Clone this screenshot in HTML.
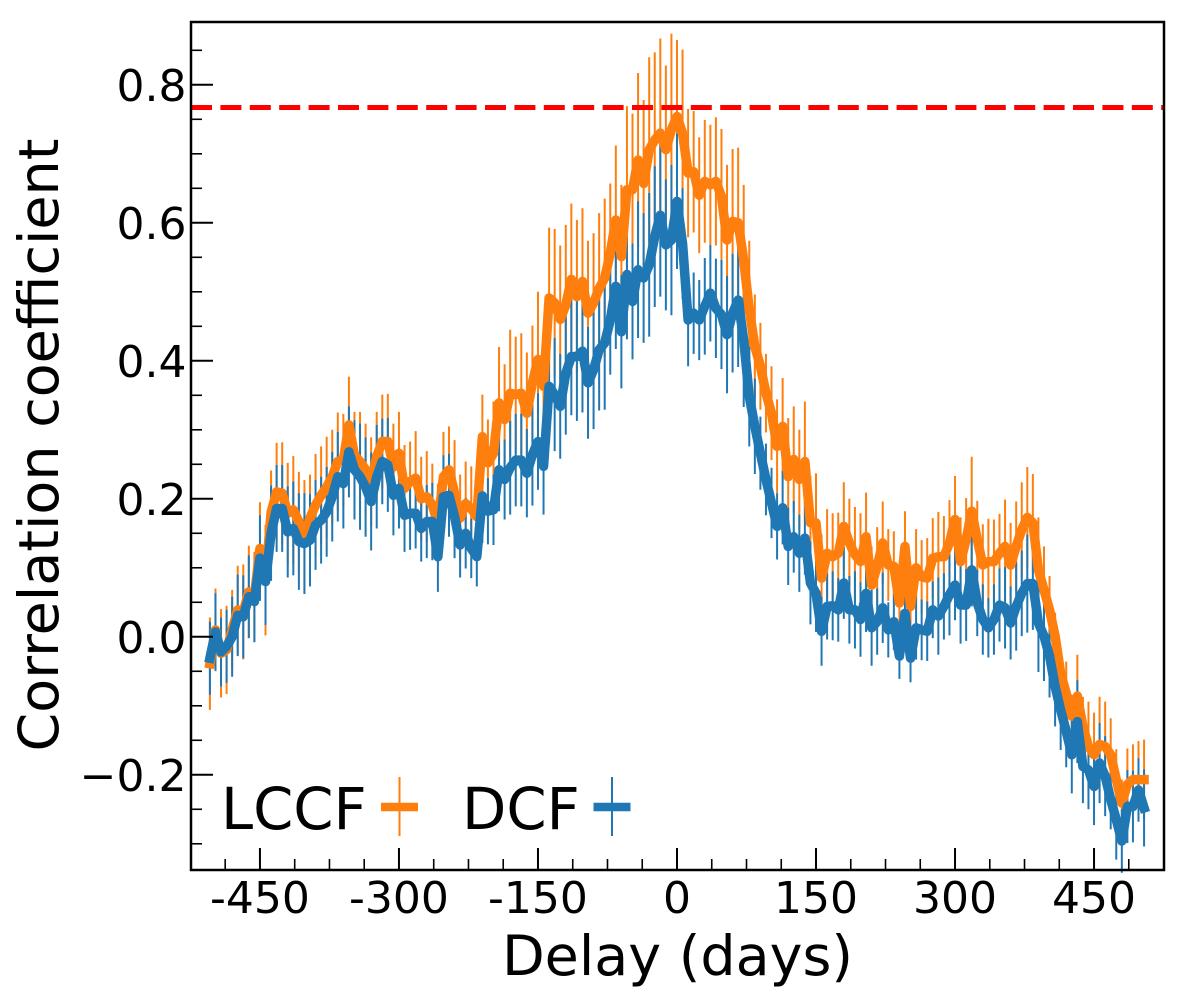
<!DOCTYPE html>
<html lang="en">
<head>
<meta charset="utf-8">
<title>Correlation coefficient vs delay</title>
<style>
html,body{margin:0;padding:0;background:#fff;}
svg{display:block;font-family:"DejaVu Sans","Liberation Sans",sans-serif;}
text{fill:#000;}
</style>
</head>
<body>
<svg id="chart" width="1200" height="1000" viewBox="0 0 1200 1000" xmlns="http://www.w3.org/2000/svg">
  <rect x="0" y="0" width="1200" height="1000" fill="#fff"/>
  <g id="errors-lccf" stroke="#ff7f0e" stroke-width="2"></g>
  <g id="errors-dcf" stroke="#1f77b4" stroke-width="2"></g>
  <path id="line-lccf" fill="none" stroke="#ff7f0e" stroke-width="9.5" stroke-linejoin="round" stroke-linecap="square"/>
  <path id="line-dcf" fill="none" stroke="#1f77b4" stroke-width="9.5" stroke-linejoin="round" stroke-linecap="square"/>
  <line id="threshold" stroke="#ff0000" stroke-width="5" stroke-dasharray="21 8.4"/>
  <g id="ticks" stroke="#000"></g>
  <g id="labels-x" font-size="44" text-anchor="middle"></g>
  <g id="labels-y" font-size="44" text-anchor="end"></g>
  <rect x="191" y="22" width="973" height="848" fill="none" stroke="#000" stroke-width="2.5"/>
  <text x="677.5" y="975" font-size="55.5" text-anchor="middle">Delay (days)</text>
  <text transform="translate(58 445) rotate(-90)" font-size="55.5" text-anchor="middle">Correlation coefficient</text>
  <g>
    <text x="221" y="829" font-size="57.6">LCCF</text>
    <line x1="381" y1="807" x2="418" y2="807" stroke="#ff7f0e" stroke-width="8.5"/>
    <line x1="399.5" y1="777" x2="399.5" y2="836" stroke="#ff7f0e" stroke-width="2"/>
    <text x="462" y="829" font-size="57.6">DCF</text>
    <line x1="593.5" y1="807" x2="630.5" y2="807" stroke="#1f77b4" stroke-width="8.5"/>
    <line x1="612" y1="777" x2="612" y2="836" stroke="#1f77b4" stroke-width="2"/>
  </g>
</svg>
<script>
const lags = [
-504,-498,-492,-486,-480,-474,-468,-462,-456,-450,-444,-438,-432,-426,-420,-414,-408,-402,-396,-390,
-384,-378,-372,-366,-360,-354,-348,-342,-336,-330,-324,-318,-312,-306,-300,-294,-288,-282,-276,-270,
-264,-258,-252,-246,-240,-234,-228,-222,-216,-210,-204,-198,-192,-186,-180,-174,-168,-162,-156,-150,
-144,-138,-132,-126,-120,-114,-108,-102,-96,-90,-84,-78,-72,-66,-60,-54,-48,-42,-36,-30,
-24,-18,-12,-6,0,6,12,18,24,30,36,42,48,54,60,66,72,78,84,90,
96,102,108,114,120,126,132,138,144,150,156,162,168,174,180,186,192,198,204,210,
216,222,228,234,240,246,252,258,264,270,276,282,288,294,300,306,312,318,324,330,
336,342,348,354,360,366,372,378,384,390,396,402,408,414,420,426,432,438,444,450,
456,462,468,474,480,486,492,498,504];

const lccfValues = [
-.039,.01,-.024,-.019,.01,.039,.036,.065,.058,.128,.082,.18,.21,.208,.179,.184,.167,.145,.172,.191,
.205,.217,.232,.254,.256,.307,.263,.254,.242,.225,.261,.283,.283,.246,.266,.215,.225,.23,.2,.203,
.191,.164,.232,.242,.208,.172,.193,.186,.174,
.29,.252,.266,.339,.315,.353,.351,.353,.324,.368,.402,.363,.491,.484,.46,.481,.518,.493,.515,.469,
.484,.505,.52,.556,.604,.551,.648,.648,.691,.657,.706,.72,.73,.706,.735,
.754,.73,.672,.674,.64,.66,.655,.66,.638,.575,.602,.6,.546,.474,.421,.392,.353,.324,.276,
.305,.232,.257,.228,.254,.165,.165,.085,.121,.116,.121,.16,.136,.119,.109,.145,.075,.102,.136,.104,
.102,.049,.131,.044,.1,.087,.085,.114,.116,.116,.136,.17,.109,.141,.182,.141,.104,.109,.109,.121,
.131,.104,.131,.155,.173,.165,.097,.068,.039,.001,-.053,-.082,-.115,-.086,-.13,-.159,-.171,-.156,-.159,-.171,
-.207,-.241,-.214,-.207,-.207,-.207];

const lccfErrors = [
.067,.06,.064,.064,.058,.064,.069,.067,.065,.067,.08,.061,.071,.074,.073,.078,.072,.082,.063,.074,
.071,.073,.068,.071,.067,.07,.063,.072,.067,.064,.065,.068,.069,.063,.06,.063,.058,.068,.061,.066,
.06,.058,.065,.063,.077,.063,.061,.061,.058,
.061,.063,.075,.081,.08,.092,.084,.087,.088,.083,.098,.082,.102,.107,.107,.116,.11,.111,.106,.105,
.101,.109,.115,.101,.108,.104,.121,.11,.126,.121,.134,.127,.137,.122,.139,
.111,.121,.093,.088,.084,.089,.087,.093,.098,.109,.105,.109,.109,.1,.075,.063,.057,.068,.068,
.07,.085,.077,.072,.087,.068,.072,.063,.064,.063,.059,.064,.064,.069,.07,.064,.056,.057,.06,.052,
.051,.043,.051,.043,.056,.053,.058,.058,.065,.059,.062,.063,.064,.06,.079,.056,.059,.062,.061,.057,
.068,.061,.065,.069,.073,.071,.076,.063,.049,.034,.036,.046,.031,.06,.043,.065,.061,.069,.065,.053,
.044,.034,.052,.051,.056,.058];

const dcfValues = [
-.031,.007,-.022,-.014,0,.031,.029,.058,.051,.114,.08,.15,.186,.186,.152,.157,.138,.135,.14,.162,
.169,.181,.203,.232,.222,.268,.242,.232,.217,.196,.232,.254,.249,.205,.215,.176,.179,.179,.157,.167,
.167,.116,.203,.205,.174,.133,.15,.128,.116,
.204,.182,.184,.242,.228,.245,.256,.256,.237,.264,.283,.247,.363,.351,.334,.382,.406,.406,.414,.368,
.387,.416,.426,.459,.508,.442,.525,.486,.532,.52,.539,.58,.611,.568,.575,
.631,.57,.459,.469,.459,.479,.498,.476,.467,.438,.469,.488,.43,.348,.305,.266,.228,.194,.16,
.187,.131,.145,.121,.143,.078,.063,.008,.044,.045,.039,.078,.039,.039,.025,.063,.013,.022,.042,.01,
.022,-.028,.034,-.031,.013,.01,.008,.039,.03,.044,.061,.075,.046,.046,.097,.049,.025,.013,.025,.046,
.042,.02,.044,.063,.077,.077,.02,.001,-.028,-.072,-.106,-.137,-.171,-.123,-.188,-.193,-.217,-.183,-.202,-.236,
-.265,-.296,-.246,-.246,-.222,-.248];

const dcfErrors = [
.053,.056,.05,.053,.058,.059,.06,.06,.059,.062,.063,.069,.063,.063,.066,.068,.07,.073,.067,.065,
.063,.065,.065,.065,.065,.066,.072,.077,.072,.071,.075,.062,.068,.058,.058,.053,.053,.051,.048,.053,
.056,.051,.06,.06,.06,.047,.051,.043,.043,
.068,.048,.051,.06,.058,.068,.067,.067,.064,.074,.07,.07,.082,.082,.076,.089,.085,.093,.089,.081,
.086,.088,.097,.079,.091,.082,.094,.084,.099,.094,.104,.102,.118,.095,.109,
.098,.08,.067,.059,.058,.07,.07,.072,.079,.085,.086,.097,.097,.072,.069,.053,.052,.051,.048,
.053,.056,.052,.056,.053,.06,.056,.05,.048,.05,.046,.052,.049,.056,.054,.056,.055,.048,.051,.04,
.041,.033,.043,.035,.046,.044,.043,.041,.056,.048,.059,.051,.056,.052,.053,.048,.051,.043,.051,.053,
.059,.053,.064,.062,.071,.067,.071,.065,.06,.058,.058,.052,.056,.06,.053,.057,.056,.058,.058,.043,
.058,.046,.053,.052,.046,.056];

const thresholdValue = 0.767;
const xMajorTicks = [-450,-300,-150,0,150,300,450];
const xMinorTicks = [-487.5,-412.5,-375,-337.5,-262.5,-225,-187.5,-112.5,-75,-37.5,37.5,75,112.5,187.5,225,262.5,337.5,375,412.5,487.5];
const yMajorTicks = [-0.2,0,0.2,0.4,0.6,0.8];
const yMinorTicks = [-0.3,-0.25,-0.15,-0.1,-0.05,0.05,0.1,0.15,0.25,0.3,0.35,0.45,0.5,0.55,0.65,0.7,0.75,0.85];
const xTickLabels = ["-450","-300","-150","0","150","300","450"];
const yTickLabels = ["\u22120.2","0.0","0.2","0.4","0.6","0.8"];

const SVG_NS = "http://www.w3.org/2000/svg";
const xDomain = [-524.4, 525.5];
const yDomain = [-0.338, 0.891];
const plotLeft = 191, plotRight = 1164, plotTop = 22, plotBottom = 870;

function xScale(v) { return plotLeft + (v - xDomain[0]) / (xDomain[1] - xDomain[0]) * (plotRight - plotLeft); }
function yScale(v) { return plotBottom - (v - yDomain[0]) / (yDomain[1] - yDomain[0]) * (plotBottom - plotTop); }
function make(tag) { return document.createElementNS(SVG_NS, tag); }
function setLine(el, x1, y1, x2, y2) {
  el.setAttribute("x1", x1.toFixed(2));
  el.setAttribute("y1", y1.toFixed(2));
  el.setAttribute("x2", x2.toFixed(2));
  el.setAttribute("y2", y2.toFixed(2));
}
function linePath(values) {
  return values.map(function (v, i) {
    return (i ? "L" : "M") + xScale(lags[i]).toFixed(2) + " " + yScale(v).toFixed(2);
  }).join(" ");
}

const lccfGroup = document.getElementById("errors-lccf");
lccfValues.forEach(function (v, i) {
  const el = make("line");
  
  
  setLine(el, xScale(lags[i]), yScale(v + lccfErrors[i]), xScale(lags[i]), yScale(v - lccfErrors[i]));
  lccfGroup.appendChild(el);
});

const dcfGroup = document.getElementById("errors-dcf");
dcfValues.forEach(function (v, i) {
  const el = make("line");
  
  
  setLine(el, xScale(lags[i]), yScale(v + dcfErrors[i]), xScale(lags[i]), yScale(v - dcfErrors[i]));
  dcfGroup.appendChild(el);
});

document.getElementById("line-lccf").setAttribute("d", linePath(lccfValues));
document.getElementById("line-dcf").setAttribute("d", linePath(dcfValues));
setLine(document.getElementById("threshold"), plotLeft, yScale(thresholdValue), plotRight, yScale(thresholdValue));

const tickGroup = document.getElementById("ticks");
xMajorTicks.forEach(function (v) {
  const el = make("line");
  
  
  el.setAttribute("stroke-width", "2");
  setLine(el, xScale(v), plotBottom, xScale(v), plotBottom - 22);
  tickGroup.appendChild(el);
});
xMinorTicks.forEach(function (v) {
  const el = make("line");
  
  
  el.setAttribute("stroke-width", "1.6");
  setLine(el, xScale(v), plotBottom, xScale(v), plotBottom - 11);
  tickGroup.appendChild(el);
});
yMajorTicks.forEach(function (v) {
  const el = make("line");
  
  
  el.setAttribute("stroke-width", "2");
  setLine(el, plotLeft, yScale(v), plotLeft + 22, yScale(v));
  tickGroup.appendChild(el);
});
yMinorTicks.forEach(function (v) {
  const el = make("line");
  
  
  el.setAttribute("stroke-width", "1.6");
  setLine(el, plotLeft, yScale(v), plotLeft + 11, yScale(v));
  tickGroup.appendChild(el);
});

const xLabelGroup = document.getElementById("labels-x");
xMajorTicks.forEach(function (v, i) {
  const el = make("text");
  
  
  el.setAttribute("x", xScale(v).toFixed(2));
  el.setAttribute("y", 913);
  el.textContent = xTickLabels[i];
  xLabelGroup.appendChild(el);
});

const yLabelGroup = document.getElementById("labels-y");
yMajorTicks.forEach(function (v, i) {
  const el = make("text");
  
  
  el.setAttribute("x", 186.5);
  el.setAttribute("y", (yScale(v) + 16).toFixed(2));
  el.textContent = yTickLabels[i];
  yLabelGroup.appendChild(el);
});
</script>
</body>
</html>
